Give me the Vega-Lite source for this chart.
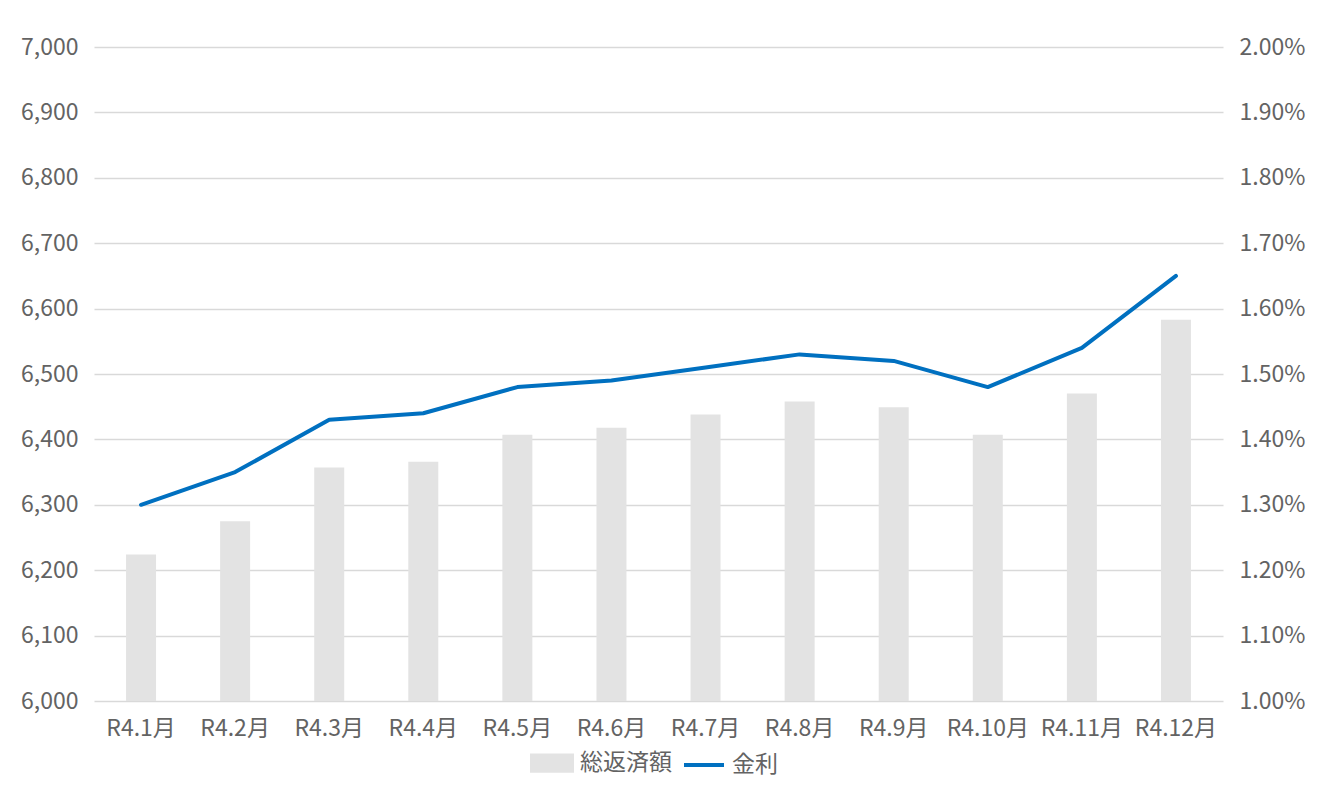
{
  "$schema": "https://vega.github.io/schema/vega-lite/v6.json",
  "autosize": {"type": "none"},
  "width": 1129,
  "height": 654,
  "padding": {"left": 94, "top": 47, "right": 108, "bottom": 86},
  "background": "#ffffff",
  "config": {
    "view": {"stroke": null},
    "font": "Noto Sans CJK JP",
    "axis": {"labelFont": "Noto Sans CJK JP", "labelFontSize": 23, "labelColor": "#636363", "ticks": false, "domain": false, "title": null, "labelOverlap": false}
  },
  "data": {
    "values": [
      {"month": "R4.1月", "total": 6224, "rate": 0.0130},
      {"month": "R4.2月", "total": 6275, "rate": 0.0135},
      {"month": "R4.3月", "total": 6357, "rate": 0.0143},
      {"month": "R4.4月", "total": 6366, "rate": 0.0144},
      {"month": "R4.5月", "total": 6407, "rate": 0.0148},
      {"month": "R4.6月", "total": 6418, "rate": 0.0149},
      {"month": "R4.7月", "total": 6438, "rate": 0.0151},
      {"month": "R4.8月", "total": 6458, "rate": 0.0153},
      {"month": "R4.9月", "total": 6449, "rate": 0.0152},
      {"month": "R4.10月", "total": 6407, "rate": 0.0148},
      {"month": "R4.11月", "total": 6470, "rate": 0.0154},
      {"month": "R4.12月", "total": 6583, "rate": 0.0165}
    ]
  },
  "encoding": {
    "x": {
      "field": "month", "type": "nominal", "sort": null,
      "scale": {"paddingInner": 0, "paddingOuter": 0},
      "axis": {"labelAngle": 0, "labelPadding": 16, "grid": false}
    }
  },
  "layer": [
    {
      "mark": {"type": "bar", "size": 30, "clip": true},
      "encoding": {
        "y": {
          "field": "total", "type": "quantitative",
          "scale": {"domain": [6000, 7000], "zero": false},
          "axis": {"orient": "left", "values": [6000,6100,6200,6300,6400,6500,6600,6700,6800,6900,7000], "format": ",.0f", "grid": true, "gridColor": "#d9d9d9", "gridWidth": 1.5, "labelPadding": 16}
        },
        "color": {
          "datum": "総返済額", "type": "nominal",
          "scale": {"domain": ["総返済額", "金利"], "range": ["#e3e3e3", "#0070c0"]},
          "legend": {
            "orient": "none",
            "legendX": 436,
            "legendY": 694,
            "direction": "horizontal",
            "title": null,
            "labelFont": "Noto Sans CJK JP",
            "labelFontSize": 23,
            "labelColor": "#636363",
            "labelOffset": 6,
            "columnPadding": 4,
            "symbolSize": 1600,
            "padding": 0,
            "encode": {
              "symbols": {
                "update": {
                  "shape": {"signal": "datum.value === '金利' ? 'M-1,0H1' : 'M-1,-0.38H1V0.38H-1Z'"},
                  "fill": {"signal": "datum.value === '金利' ? 'transparent' : '#e3e3e3'"},
                  "stroke": {"signal": "datum.value === '金利' ? '#0070c0' : 'transparent'"},
                  "strokeWidth": {"value": 4},
                  "opacity": {"value": 1}
                }
              }
            }
          }
        }
      }
    },
    {
      "mark": {"type": "line", "strokeWidth": 4, "strokeCap": "round", "strokeJoin": "round"},
      "encoding": {
        "y": {
          "field": "rate", "type": "quantitative",
          "scale": {"domain": [0.01, 0.02], "zero": false},
          "axis": {"orient": "right", "values": [0.01,0.011,0.012,0.013,0.014,0.015,0.016,0.017,0.018,0.019,0.02], "format": ".2%", "grid": false, "labelPadding": 16}
        },
        "color": {"datum": "金利", "type": "nominal"}
      }
    }
  ],
  "resolve": {"scale": {"y": "independent"}}
}
